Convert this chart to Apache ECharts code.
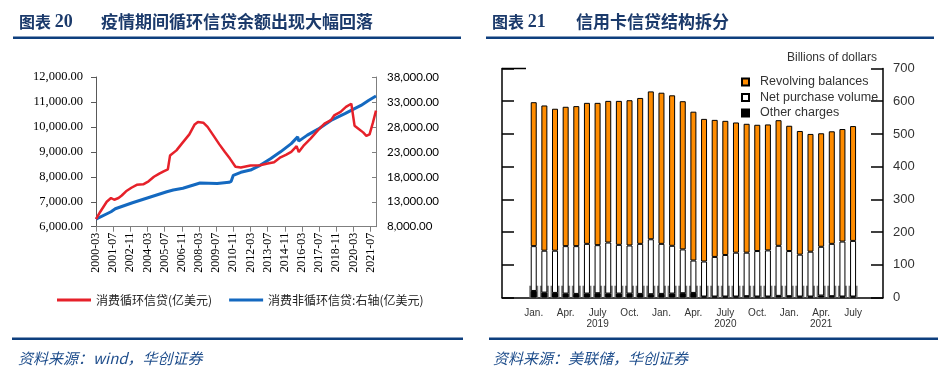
<!DOCTYPE html>
<html><head><meta charset="utf-8">
<script src="https://cdn.jsdelivr.net/npm/echarts@6/dist/echarts.min.js"></script>
<style>html,body{margin:0;padding:0;background:#fff}#c{width:950px;height:378px}</style>
</head><body><div id="c"></div>
<script>
// ===== Left chart (图表 20) =====
const lineStart = [2000, 3];
const lineEnd = [2021, 12];
const lineTickLabels = ['2000-03','2001-07','2002-11','2004-03','2005-07','2006-11','2008-03','2009-07','2010-11','2012-03','2013-07','2014-11','2016-03','2017-07','2018-11','2020-03','2021-07'];
const rightAxisTicks = [8000, 13000, 18000, 23000, 28000, 33000, 38000];
// 消费循环信贷 (亿美元), left axis
const revolvingCredit = [
  ['2000-03',6300],['2000-07',6600],['2001-01',7000],['2001-05',7150],['2001-08',7080],['2001-12',7150],
  ['2002-03',7250],['2002-07',7420],['2002-12',7560],['2003-05',7680],['2003-11',7700],['2004-04',7820],
  ['2004-09',8000],['2005-02',8130],['2005-06',8220],['2005-10',8300],['2005-12',8850],['2006-06',9060],
  ['2006-11',9330],['2007-06',9700],['2007-11',10100],['2008-02',10200],['2008-07',10170],['2008-11',10000],
  ['2009-05',9620],['2009-10',9300],['2010-03',9000],['2010-08',8720],['2011-01',8400],['2011-06',8370],
  ['2012-03',8450],['2012-12',8460],['2013-07',8530],['2014-01',8580],['2014-07',8780],['2014-12',8880],
  ['2015-05',9000],['2015-10',9230],['2015-12',8990],['2016-05',9270],['2016-11',9530],['2017-06',9870],
  ['2017-12',10130],['2018-06',10270],['2018-09',10460],['2019-03',10600],['2019-08',10800],['2020-01',10930],
  ['2020-02',10950],['2020-04',10050],['2020-07',9950],['2020-12',9780],['2021-03',9640],['2021-06',9700],
  ['2021-09',10150],['2021-12',10650]
];
// 消费非循环信贷 (亿美元), right axis
const nonrevolvingCredit = [
  ['2000-03',9500],['2001-05',11000],['2001-09',11600],['2003-01',12800],['2004-05',13900],['2005-09',15000],
  ['2006-03',15350],['2006-12',15700],['2008-04',16750],['2009-08',16650],['2010-07',16900],['2010-09',17100],
  ['2010-11',18300],['2011-06',18900],['2012-03',19350],['2012-12',20300],['2013-10',21650],['2014-07',23000],
  ['2015-05',24650],['2015-11',26000],['2015-12',25150],['2016-08',26350],['2017-06',27550],['2018-06',29300],
  ['2019-07',30650],['2020-04',31650],['2020-10',32300],['2021-05',33300],['2021-12',34200]
];

// ===== Right chart (图表 21) =====
const barCategories = ['2019-01','2019-02','2019-03','2019-04','2019-05','2019-06','2019-07','2019-08','2019-09','2019-10','2019-11','2019-12',
  '2020-01','2020-02','2020-03','2020-04','2020-05','2020-06','2020-07','2020-08','2020-09','2020-10','2020-11','2020-12',
  '2021-01','2021-02','2021-03','2021-04','2021-05','2021-06','2021-07'];
const barMonthLabels = ['Jan.','','','Apr.','','','July','','','Oct.','','','Jan.','','','Apr.','','','July','','','Oct.','','','Jan.','','','Apr.','','','July'];
const barYearLabels = ['','','','','','','2019','','','','','','','','','','','','2020','','','','','','','','','2021','','',''];
const revolvingBalances = [440,444,434,426,428,431,435,433,440,444,446,452,462,460,453,455,436,419,410,398,394,386,385,384,383,378,360,347,344,344,351];
const netPurchaseVolume = [137,128,129,145,146,152,147,156,149,147,153,168,153,146,134,99,107,121,127,134,133,139,141,153,138,128,137,149,160,168,170];
const otherCharges = [20,15,14,12,11,12,13,12,12,12,11,10,11,12,13,14,3,3,3,3,4,3,3,5,4,3,3,6,4,3,3];
const baseMarks = [36,36,36,36,36,36,36,36,36,36,36,36,36,36,36,36,36,36,36,36,36,36,36,36,36,36,36,36,36,36,36];

// month categories for the line chart axis
const monthCats = [];
for (let y = lineStart[0], m = lineStart[1]; y < lineEnd[0] || (y === lineEnd[0] && m <= lineEnd[1]); ) {
  monthCats.push(y + '-' + (m < 10 ? '0' + m : '' + m));
  m++; if (m > 12) { m = 1; y++; }
}
const fmt2 = v => v.toLocaleString('en-US', {minimumFractionDigits: 2, maximumFractionDigits: 2});
const showTick = (i, v) => lineTickLabels.indexOf(v) >= 0;

const navy = '#1B3A6B';
const chart = echarts.init(document.getElementById('c'), null, {renderer: 'canvas'});
chart.setOption({
  animation: false,
  backgroundColor: '#fff',
  title: [
    {left: 14, top: 8, text: '图表 {n|20}', textStyle: {fontFamily: 'Noto Sans CJK SC', fontWeight: 'bold', fontSize: 16, color: navy,
      rich: {n: {fontFamily: 'Liberation Serif', fontWeight: 'bold', fontSize: 18, color: navy}}}},
    {left: 96, top: 8, text: '疫情期间循环信贷余额出现大幅回落', textStyle: {fontFamily: 'Noto Sans CJK SC', fontWeight: 'bold', fontSize: 17, color: navy}},
    {left: 487, top: 8, text: '图表 {n|21}', textStyle: {fontFamily: 'Noto Sans CJK SC', fontWeight: 'bold', fontSize: 16, color: navy,
      rich: {n: {fontFamily: 'Liberation Serif', fontWeight: 'bold', fontSize: 18, color: navy}}}},
    {left: 571, top: 8, text: '信用卡信贷结构拆分', textStyle: {fontFamily: 'Noto Sans CJK SC', fontWeight: 'bold', fontSize: 17, color: navy}},
    {right: 68, top: 47, text: 'Billions of dollars', textStyle: {fontFamily: 'Liberation Sans', fontWeight: 'normal', fontSize: 12, color: '#333'}},
    {left: 13, top: 346, text: '资料来源：wind，华创证券', textStyle: {fontFamily: 'Noto Sans CJK SC', fontStyle: 'italic', fontWeight: 'normal', fontSize: 15, color: '#1F4E8C'}},
    {left: 488, top: 346, text: '资料来源：美联储，华创证券', textStyle: {fontFamily: 'Noto Sans CJK SC', fontStyle: 'italic', fontWeight: 'normal', fontSize: 15, color: '#1F4E8C'}}
  ],
  legend: [
    {left: 52, top: 289, itemWidth: 34, itemHeight: 3, itemGap: 17, icon: 'rect',
      data: ['消费循环信贷(亿美元)', '消费非循环信贷:右轴(亿美元)'],
      textStyle: {fontFamily: 'Noto Sans CJK SC', fontSize: 12, color: '#222'}},
    {left: 736, top: 70, orient: 'vertical', itemWidth: 7, itemHeight: 7, itemGap: 1.5, icon: 'rect',
      data: ['Revolving balances', 'Net purchase volume', 'Other charges'],
      textStyle: {fontFamily: 'Liberation Sans', fontSize: 12.5, color: '#333', lineHeight: 14, padding: [0, 0, 0, 6]}}
  ],
  grid: [
    {left: 96, top: 77, width: 280, height: 149.7},
    {left: 502, top: 68.5, width: 381, height: 229},
    {left: 528.4, top: 68.5, width: 330, height: 229}
  ],
  xAxis: [
    {gridIndex: 0, type: 'category', data: monthCats, boundaryGap: false,
      axisLine: {lineStyle: {color: '#7f7f7f', width: 1}},
      axisTick: {interval: showTick, length: 5, lineStyle: {color: '#7f7f7f'}},
      axisLabel: {interval: showTick, rotate: 90, margin: 6, fontFamily: 'Liberation Serif', fontSize: 12, color: '#000'},
      splitLine: {show: false}},
    {gridIndex: 1, type: 'value', min: 0, max: 1,
      axisLine: {show: true, lineStyle: {color: '#000', width: 1.5}},
      axisTick: {show: false}, axisLabel: {show: false}, splitLine: {show: false}},
    {gridIndex: 2, type: 'category', data: barCategories, boundaryGap: true,
      axisLine: {show: false}, axisTick: {show: false},
      axisLabel: {interval: 0, margin: 10, fontFamily: 'Liberation Sans', fontSize: 10, lineHeight: 11, color: '#333',
        formatter: (v, i) => barMonthLabels[i] + (barYearLabels[i] ? '\n' + barYearLabels[i] : '')},
      splitLine: {show: false}},
    {gridIndex: 2, type: 'category', data: barCategories, boundaryGap: true, show: false}
  ],
  yAxis: [
    {gridIndex: 0, type: 'value', min: 6000, max: 12000, interval: 1000, position: 'left',
      axisLine: {show: true, lineStyle: {color: '#595959', width: 1}},
      axisTick: {show: true, length: 5, lineStyle: {color: '#595959'}},
      axisLabel: {margin: 13, formatter: fmt2, fontFamily: 'Liberation Serif', fontSize: 12.5, color: '#000'},
      splitLine: {show: false}},
    {gridIndex: 0, type: 'value', min: 8000, max: 38000, interval: 5000, position: 'right',
      axisLine: {show: true, lineStyle: {color: '#7f7f7f', width: 1}},
      axisTick: {show: true, inside: true, length: 4, customValues: rightAxisTicks, lineStyle: {color: '#7f7f7f'}},
      axisLabel: {margin: 11, customValues: rightAxisTicks, formatter: fmt2, fontFamily: 'Lato', fontSize: 11.5, color: '#000'},
      splitLine: {show: false}},
    {gridIndex: 1, type: 'value', min: 0, max: 700, interval: 100, position: 'left',
      axisLine: {show: true, lineStyle: {color: '#000', width: 1.5}},
      axisTick: {show: true, inside: true, length: 12, lineStyle: {color: '#000', width: 1.5}},
      axisLabel: {show: false}, splitLine: {show: false}},
    {gridIndex: 1, type: 'value', min: 0, max: 700, interval: 100, position: 'right',
      axisLine: {show: true, lineStyle: {color: '#000', width: 1.5}},
      axisTick: {show: true, inside: true, length: 12, lineStyle: {color: '#000', width: 1.5}},
      axisLabel: {margin: 10, fontFamily: 'Liberation Sans', fontSize: 13, color: '#333'},
      splitLine: {show: false}},
    {gridIndex: 2, type: 'value', min: 0, max: 700, show: false}
  ],
  series: [
    {name: '消费循环信贷(亿美元)', type: 'line', xAxisIndex: 0, yAxisIndex: 0, data: revolvingCredit,
      symbol: 'none', color: '#E6212A', lineStyle: {color: '#E6212A', width: 2.5}, z: 3},
    {name: '消费非循环信贷:右轴(亿美元)', type: 'line', xAxisIndex: 0, yAxisIndex: 1, data: nonrevolvingCredit,
      symbol: 'none', color: '#1469C0', lineStyle: {color: '#1469C0', width: 3}, z: 2},
    {name: 'base', type: 'bar', xAxisIndex: 3, yAxisIndex: 4, data: baseMarks, barWidth: 9, silent: true,
      itemStyle: {color: '#777'}, z: 1},
    {name: 'Other charges', type: 'bar', stack: 'cc', xAxisIndex: 2, yAxisIndex: 4, data: otherCharges, barWidth: 6,
      itemStyle: {color: '#000', borderColor: '#000', borderWidth: 1}, z: 3},
    {name: 'Net purchase volume', type: 'bar', stack: 'cc', xAxisIndex: 2, yAxisIndex: 4, data: netPurchaseVolume, barWidth: 6,
      itemStyle: {color: '#fff', borderColor: '#000', borderWidth: 1}, z: 3},
    {name: 'Revolving balances', type: 'bar', stack: 'cc', xAxisIndex: 2, yAxisIndex: 4, data: revolvingBalances, barWidth: 6,
      itemStyle: {color: '#FF8C00', borderColor: '#000', borderWidth: 1}, z: 3}
  ],
  graphic: [
    {type: 'rect', shape: {x: 13, y: 36.5, width: 448, height: 2.5}, style: {fill: '#0E3F7E'}},
    {type: 'rect', shape: {x: 486, y: 36.5, width: 448, height: 2.5}, style: {fill: '#0E3F7E'}},
    {type: 'rect', shape: {x: 12, y: 337.5, width: 451, height: 2.5}, style: {fill: '#0E3F7E'}},
    {type: 'rect', shape: {x: 489, y: 337.5, width: 449, height: 2.5}, style: {fill: '#0E3F7E'}},
    {type: 'line', shape: {x1: 502, y1: 68.5, x2: 526, y2: 68.5}, style: {stroke: '#000', lineWidth: 1.5}}
  ]
});
</script></body></html>
